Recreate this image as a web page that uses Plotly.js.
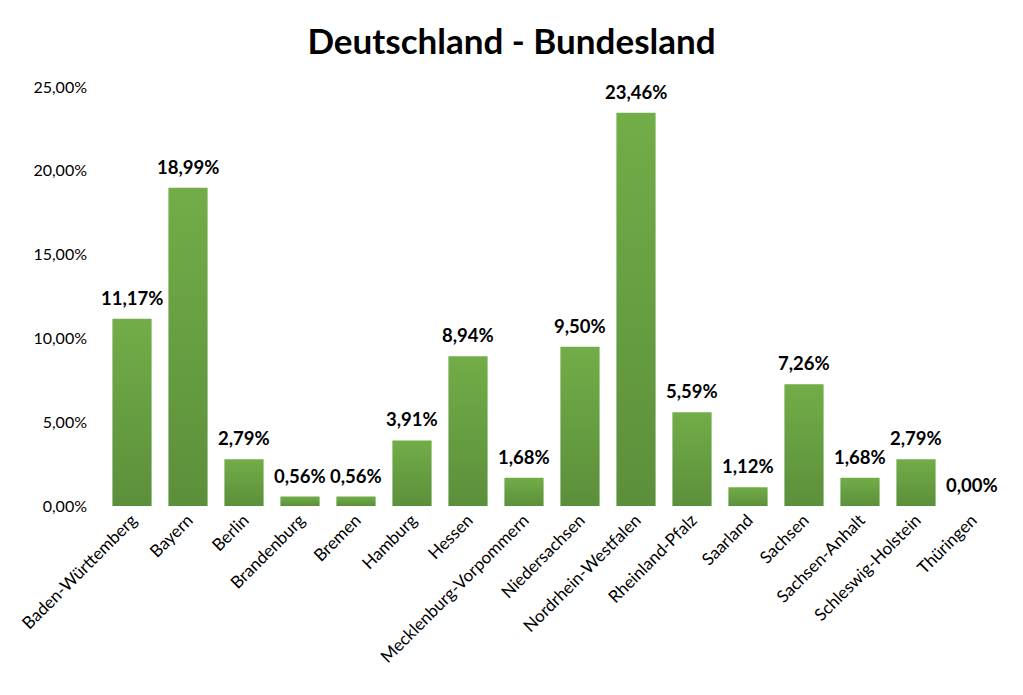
<!DOCTYPE html>
<html><head><meta charset="utf-8">
<script src="https://cdn.plot.ly/plotly-3.0.1.min.js"></script>
<style>html,body{margin:0;padding:0;background:#fff}#c{width:1023px;height:695px}</style>
</head><body><div id="c"></div>
<script>
const categories = ["Baden-Württemberg","Bayern","Berlin","Brandenburg","Bremen","Hamburg","Hessen","Mecklenburg-Vorpommern","Niedersachsen","Nordrhein-Westfalen","Rheinland-Pfalz","Saarland","Sachsen","Sachsen-Anhalt","Schleswig-Holstein","Thüringen"];
const shares = [11.17,18.99,2.79,0.56,0.56,3.91,8.94,1.68,9.50,23.46,5.59,1.12,7.26,1.68,2.79,0.00];
const yTicks = [0,5,10,15,20,25];
const yTickLabels = ["0,00%","5,00%","10,00%","15,00%","20,00%","25,00%"];

const fontFam = "Lato, 'Open Sans', 'Liberation Sans', sans-serif";
const trace = {
  type: 'bar', x: categories, y: shares,
  marker: {color: '#68a041', line: {width: 0}},
  hoverinfo: 'none'
};
const labels = categories.map(function(c, i){
  return {x: c, y: shares[i], xref: 'x', yref: 'y', yanchor: 'middle', yshift: 21,
          text: '<b>' + shares[i].toFixed(2).replace('.', ',') + '%</b>', showarrow: false,
          font: {family: fontFam, size: 18.5, color: '#000'}};
});
const layout = {
  width: 1023, height: 695,
  margin: {l: 104, r: 23, t: 87, b: 189},
  paper_bgcolor: '#fff', plot_bgcolor: '#fff',
  bargap: 0.3,
  showlegend: false,
  annotations: labels,
  title: {text: '<b>Deutschland - Bundesland</b>', x: 0.5, xanchor: 'center', y: 0.94, yanchor: 'middle',
          font: {family: fontFam, size: 35, color: '#000'}},
  xaxis: {range: [-0.5, categories.length - 0.5], automargin: false,
          tickangle: -45, showgrid: false, zeroline: false, showline: false, ticks: '',
          tickfont: {family: fontFam, size: 17, color: '#000'}},
  yaxis: {range: [0, 25], automargin: false, tickvals: yTicks, ticktext: yTickLabels,
          showgrid: false, zeroline: false, showline: false, ticks: '', ticklabelstandoff: 16,
          tickfont: {family: fontFam, size: 16, color: '#000'}}
};
Plotly.newPlot('c', [trace], layout, {staticPlot: true}).then(function(gd){
  const svg = gd.querySelector('svg.main-svg');
  const ns = 'http://www.w3.org/2000/svg';
  let defs = svg.querySelector('defs');
  if (!defs) { defs = document.createElementNS(ns, 'defs'); svg.insertBefore(defs, svg.firstChild); }
  const lg = document.createElementNS(ns, 'linearGradient');
  lg.setAttribute('id', 'barGrad'); lg.setAttribute('x1', '0'); lg.setAttribute('y1', '0');
  lg.setAttribute('x2', '0'); lg.setAttribute('y2', '1');
  [['0%', '#72ad48'], ['100%', '#5c8f3b']].forEach(function(s){
    const st = document.createElementNS(ns, 'stop');
    st.setAttribute('offset', s[0]); st.setAttribute('stop-color', s[1]); lg.appendChild(st);
  });
  defs.appendChild(lg);
  gd.querySelectorAll('.bars .point path').forEach(function(p){ p.style.fill = 'url(#barGrad)'; });
});
</script></body></html>
